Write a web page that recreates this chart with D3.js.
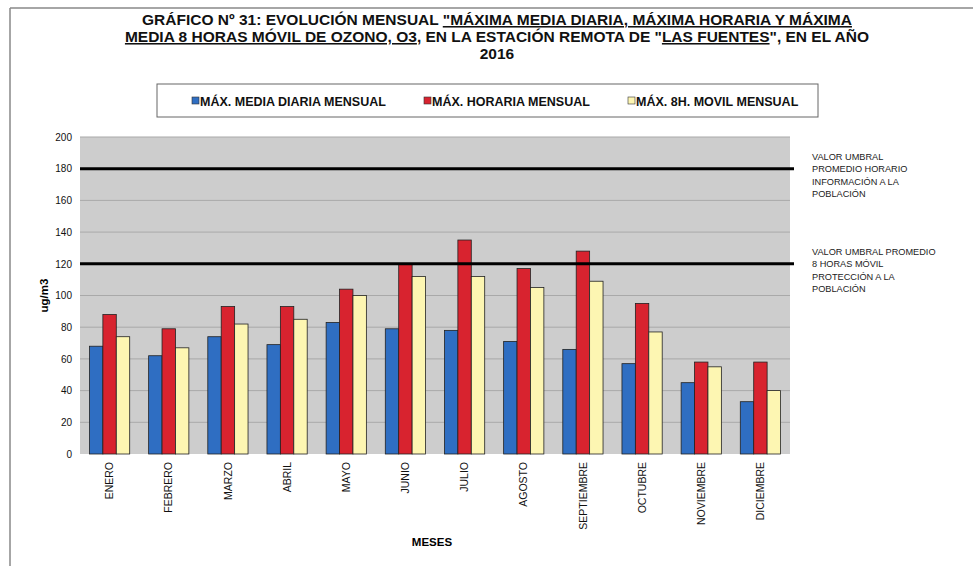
<!DOCTYPE html>
<html>
<head>
<meta charset="utf-8">
<script src="https://cdn.jsdelivr.net/npm/d3@7"></script>
<style>
  body { margin: 0; background: #fff; }
  text { font-family: "Liberation Sans", Arial, sans-serif; }
</style>
</head>
<body>
<script>
// data
var months = ["ENERO", "FEBRERO", "MARZO", "ABRIL", "MAYO", "JUNIO", "JULIO",
              "AGOSTO", "SEPTIEMBRE", "OCTUBRE", "NOVIEMBRE", "DICIEMBRE"];
var mediaDiaria = [68, 62, 74, 69, 83, 79, 78, 71, 66, 57, 45, 33];
var horaria     = [88, 79, 93, 93, 104, 120, 135, 117, 128, 95, 58, 58];
var movil8h     = [74, 67, 82, 85, 100, 112, 112, 105, 109, 77, 55, 40];
var seriesNames = ["MÁX. MEDIA DIARIA MENSUAL", "MÁX. HORARIA MENSUAL", "MÁX. 8H. MOVIL MENSUAL"];
var seriesColors = ["#2f6ec2", "#d8232f", "#fdf6b2"];
var yTicks = [0, 20, 40, 60, 80, 100, 120, 140, 160, 180, 200];
var thresholds = [180, 120];

var W = 973, H = 566;
var margin = {top: 137, right: 183, bottom: 112, left: 80};
var width = W - margin.left - margin.right,
    height = H - margin.top - margin.bottom;

var svg = d3.select("body").append("svg")
  .attr("width", W)
  .attr("height", H);

// outer frame
svg.append("line").attr("x1", 10).attr("x2", W).attr("y1", 8).attr("y2", 8)
  .attr("stroke", "#888").attr("stroke-width", 1.5);
svg.append("line").attr("x1", 10).attr("x2", 10).attr("y1", 8).attr("y2", H)
  .attr("stroke", "#888").attr("stroke-width", 1.5);

// title
var title = svg.append("text")
  .attr("text-anchor", "middle")
  .attr("font-weight", "bold")
  .attr("font-size", 15.5)
  .attr("fill", "#111");
var l1 = title.append("tspan").attr("x", 497).attr("y", 25);
l1.append("tspan").text("GRÁFICO Nº 31: EVOLUCIÓN  MENSUAL ");
l1.append("tspan").attr("text-decoration", "underline").text("\"MÁXIMA MEDIA DIARIA, MÁXIMA HORARIA Y MÁXIMA");
var l2 = title.append("tspan").attr("x", 497).attr("y", 42);
l2.append("tspan").attr("text-decoration", "underline").text("MEDIA 8 HORAS MÓVIL DE OZONO, O3");
l2.append("tspan").text(", EN LA ESTACIÓN REMOTA DE \"");
l2.append("tspan").attr("text-decoration", "underline").text("LAS FUENTES");
l2.append("tspan").text("\", EN EL AÑO");
title.append("tspan").attr("x", 497).attr("y", 59).text("2016");

// legend
svg.append("rect").attr("x", 157).attr("y", 84).attr("width", 661).attr("height", 33)
  .attr("fill", "#fff").attr("stroke", "#666").attr("stroke-width", 1);
var legX = [192, 424, 628];
var leg = svg.selectAll(".leg").data(seriesNames).enter().append("g")
  .attr("transform", function(d, i) { return "translate(" + legX[i] + ",101)"; });
leg.append("rect").attr("x", 0).attr("y", -4).attr("width", 7).attr("height", 7)
  .attr("fill", function(d, i) { return seriesColors[i]; })
  .attr("stroke", "#333").attr("stroke-width", 0.6);
leg.append("text").attr("x", 8).attr("y", 4.5)
  .attr("font-size", 12.5).attr("font-weight", "bold").attr("fill", "#111")
  .text(function(d) { return d; });

var g = svg.append("g")
  .attr("transform", "translate(" + margin.left + "," + margin.top + ")");

// scales
var x = d3.scaleBand().domain(months).range([0, width]).paddingInner(0.32).paddingOuter(0.16);
var xs = d3.scaleBand().domain([0, 1, 2]).range([0, x.bandwidth()]);
var y = d3.scaleLinear().domain([0, 200]).range([height, 0]);

// plot area
g.append("rect").attr("width", width).attr("height", height).attr("fill", "#cdcdcd");
g.selectAll(".grid").data(yTicks.filter(function(d) { return d > 0; })).enter().append("line")
  .attr("x1", 0).attr("x2", width)
  .attr("y1", function(d) { return y(d); }).attr("y2", function(d) { return y(d); })
  .attr("stroke", "#a9a9a9").attr("stroke-width", 1);

// y axis
var yAxis = g.append("g")
  .call(d3.axisLeft(y).tickValues(yTicks).tickSize(0).tickPadding(8));
yAxis.select(".domain").remove();
yAxis.selectAll("text").attr("font-size", 10).attr("fill", "#111")
  .style("font-family", "'Liberation Sans', Arial, sans-serif");

svg.append("text")
  .attr("transform", "translate(48," + (margin.top + height / 2) + ") rotate(-90)")
  .attr("text-anchor", "middle").attr("font-size", 11.5).attr("font-weight", "bold")
  .text("ug/m3");

// bars
var series = [mediaDiaria, horaria, movil8h];
series.forEach(function(vals, s) {
  g.selectAll(".bar" + s).data(vals).enter().append("rect")
    .attr("x", function(d, i) { return x(months[i]) + xs(s); })
    .attr("y", function(d) { return y(d); })
    .attr("width", xs.bandwidth())
    .attr("height", function(d) { return height - y(d); })
    .attr("fill", seriesColors[s])
    .attr("stroke", "#222").attr("stroke-width", 0.8);
});

// threshold lines
g.selectAll(".thr").data(thresholds).enter().append("line")
  .attr("x1", 0).attr("x2", width + 4)
  .attr("y1", function(d) { return y(d); }).attr("y2", function(d) { return y(d); })
  .attr("stroke", "#000").attr("stroke-width", 3);

// x axis
var xAxis = g.append("g")
  .attr("transform", "translate(0," + height + ")")
  .call(d3.axisBottom(x).tickSize(0).tickPadding(6));
xAxis.select(".domain").remove();
xAxis.selectAll("text")
  .attr("transform", "rotate(-90)")
  .attr("text-anchor", "end")
  .attr("x", -8).attr("y", 0).attr("dy", "0.35em")
  .attr("font-size", 10.5).attr("fill", "#111")
  .style("font-family", "'Liberation Sans', Arial, sans-serif");

svg.append("text").attr("x", 432).attr("y", 546)
  .attr("text-anchor", "middle").attr("font-size", 11.5).attr("font-weight", "bold")
  .text("MESES");

// threshold notes
var notes = [
  ["VALOR UMBRAL", "PROMEDIO HORARIO", "INFORMACIÓN  A LA", "POBLACIÓN"],
  ["VALOR UMBRAL  PROMEDIO", "8 HORAS MÓVIL", "PROTECCIÓN A LA", "POBLACIÓN"]
];
notes.forEach(function(lines, k) {
  var t = svg.append("text").attr("font-size", 9.2).attr("fill", "#222");
  lines.forEach(function(l, j) {
    t.append("tspan").attr("x", 812)
      .attr("y", margin.top + y(thresholds[k]) - 9 + j * 12.5).text(l);
  });
});
</script>
</body>
</html>
